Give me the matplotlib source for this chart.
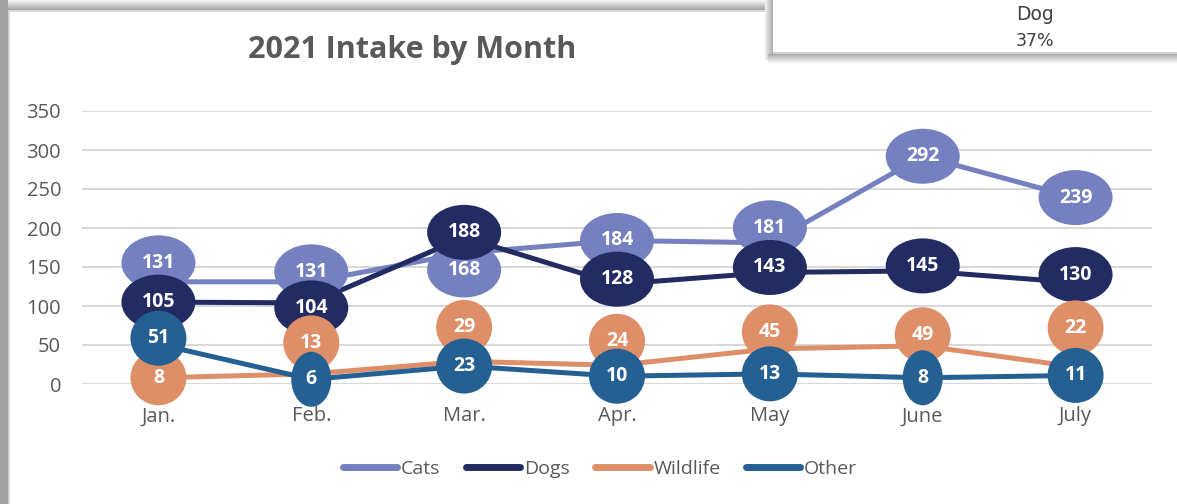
import matplotlib
matplotlib.use("Agg")
import matplotlib.pyplot as plt
from matplotlib.patches import Rectangle, Ellipse
from matplotlib.transforms import ScaledTranslation

plt.rcParams['font.family'] = ['Open Sans', 'DejaVu Sans']

months = ["Jan.", "Feb.", "Mar.", "Apr.", "May", "June", "July"]
cats = [131, 131, 168, 184, 181, 292, 239]
dogs = [105, 104, 188, 128, 143, 145, 130]
wildlife = [8, 13, 29, 24, 45, 49, 22]
other = [51, 6, 23, 10, 13, 8, 11]

series_names = ["Cats", "Dogs", "Wildlife", "Other"]
series_values = [cats, dogs, wildlife, other]
colors = ["#7480BF", "#222B62", "#DF8F67", "#246092"]

# label bubble vertical offsets (pixels) -- placement only
label_offsets = [
    [19, 10, -17, 0, 15, 0, 0],
    [0, -5, 5, 5, 5, 5, 8],
    [0, 31, 34, 24, 17, 11, 39],
    [6, 0, 0, 0, 0, 0, 0],
]
# bubble width (px) by number of digits, min width per series
bubble_w = {1: 40, 2: 56, 3: 74}
bubble_min_w = [0, 0, 56, 0]
bubble_h = 55

W, H = 1177, 504
fig = plt.figure(figsize=(W / 100, H / 100), dpi=100)

# background frame / shadows in pixel coords
bg = fig.add_axes([0, 0, 1, 1], zorder=-10)
bg.set_xlim(0, W)
bg.set_ylim(H, 0)
bg.axis("off")
for i in range(10):
    g = 0.63 if i < 8 else 0.8 + 0.08 * (i - 8)
    bg.add_patch(Rectangle((i, 0), 1, H, color=(g, g, g), lw=0))
for j in range(12):
    g = 0.95 - 0.033 * j if j < 10 else 0.85
    bg.add_patch(Rectangle((8, j), 762, 1, color=(g, g, g), lw=0))
# overlapping pie-chart box at top right
for i in range(8):
    g = 0.93 - 0.035 * i
    bg.add_patch(Rectangle((765 + i, 0), 1, 60, color=(g, g, g), lw=0))
for j in range(9):
    g = 0.68 + 0.035 * j
    bg.add_patch(Rectangle((768, 54 + j), W - 768, 1, color=(g, g, g), lw=0))
bg.add_patch(Rectangle((773, 0), W - 773, 54, color="white", lw=0))
bg.add_patch(Rectangle((773, 52), W - 773, 2, color="#d0d0d0", lw=0))
bg.text(1035, 15, "Dog", ha="center", va="center", fontsize=13.5,
        color="#404040", family="DejaVu Sans")
bg.text(1035, 41, "37%", ha="center", va="center", fontsize=12.5,
        color="#404040", family="DejaVu Sans")

ax = fig.add_axes([82 / W, 1 - 384 / H, 1070 / W, 273 / H])
ax.set_facecolor("none")
x = list(range(len(months)))

for k, (name, vals, c) in enumerate(zip(series_names, series_values, colors)):
    ax.plot(x, vals, color=c, lw=3.6, label=name, zorder=2 + k * 0.1,
            solid_capstyle="round")

for k, (vals, c, offs) in enumerate(zip(series_values, colors, label_offsets)):
    for i, v in enumerate(vals):
        w = max(bubble_w[len(str(v))], bubble_min_w[k])
        trans = fig.dpi_scale_trans + ScaledTranslation(i, v, ax.transData)
        ax.add_patch(Ellipse((0, offs[i] / 100), w / 100, bubble_h / 100,
                             transform=trans, fc=c, ec="none",
                             clip_on=False, zorder=5 + k))
        ax.annotate(str(v), (i, v), xytext=(0, offs[i] * 0.72),
                    textcoords="offset points", ha="center", va="center",
                    fontsize=14, fontweight="bold", color="white",
                    zorder=5.5 + k)

ax.set_xlim(-0.5, 6.5)
ax.set_ylim(0, 350)
ax.set_yticks(range(0, 351, 50))
ax.set_xticks(x)
ax.set_xticklabels(months)
ax.grid(axis="y", color="#d9d9d9", lw=1.5, zorder=0)
for s in ax.spines.values():
    s.set_visible(False)
ax.tick_params(length=0, labelsize=14.5, labelcolor="#595959")
ax.tick_params(axis="y", pad=15)
ax.tick_params(axis="x", pad=16)

fig.text(412 / W, 1 - 50 / H, "2021 Intake by Month", ha="center",
         va="center", fontsize=22, fontweight="bold", color="#595959")

fig.legend(loc="center", bbox_to_anchor=(600 / W, 1 - 469 / H), ncol=4,
           frameon=False, fontsize=14, labelcolor="#595959",
           handlelength=2.8, handletextpad=0.2, columnspacing=1.3)
for line in fig.legends[0].get_lines():
    line.set_linewidth(5)

fig.savefig("out.png", dpi=100)
